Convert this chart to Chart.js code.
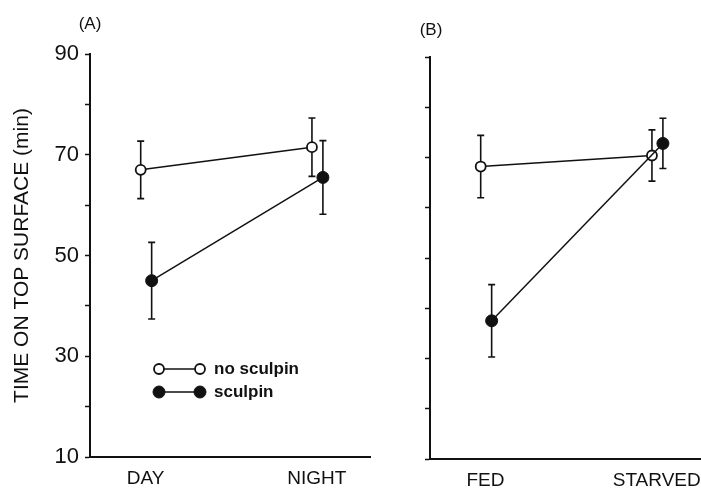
<!DOCTYPE html>
<html>
<head>
<meta charset="utf-8">
<script src="https://cdn.jsdelivr.net/npm/chart.js@4"></script>
<style>
    html, body { margin: 0; padding: 0; background: #fff; overflow: hidden; width: 701px; height: 489px; }
    canvas { position: absolute; }
    #panelA { left: 0; top: 0; }
    #panelB { left: 340px; top: 2px; }
</style>
</head>
<body>
<canvas id="panelA" width="380" height="489"></canvas>
<canvas id="panelB" width="380" height="489"></canvas>
<script>
// datos
const periodos = ["DAY", "NIGHT"];
const alimento = ["FED", "STARVED"];
const ticksY = [10, 30, 50, 70, 90];
const series = ["no sculpin", "sculpin"];

// panel (A)
const sinSculpinA = [67, 71.5];
const sinSculpinErrA = [5.7, 5.8];
const conSculpinA = [45, 65.5];
const conSculpinErrA = [7.6, 7.3];

// panel (B)
const sinSculpinB = [68.2, 70.4];
const sinSculpinErrB = [6.2, 5.1];
const conSculpinB = [37.5, 72.8];
const conSculpinErrB = [7.2, 5.0];
//-----------------------------------------------------

const negro = "#111";
const fuente = "'Liberation Sans', Arial, sans-serif";
Chart.defaults.font.family = fuente;
Chart.defaults.color = negro;

// barras de error con sus topes
const barrasError = {
    id: "barrasError",
    beforeDatasetsDraw(chart) {
        const ctx = chart.ctx;
        const escalaY = chart.scales.y;
        ctx.save();
        ctx.strokeStyle = negro;
        ctx.lineWidth = 1.6;
        chart.data.datasets.forEach((ds, i) => {
            chart.getDatasetMeta(i).data.forEach((pt, j) => {
                const arriba = escalaY.getPixelForValue(ds.data[j].y + ds.errores[j]);
                const abajo = escalaY.getPixelForValue(ds.data[j].y - ds.errores[j]);
                ctx.beginPath();
                ctx.moveTo(pt.x, arriba); ctx.lineTo(pt.x, abajo);
                ctx.moveTo(pt.x - 3.5, arriba); ctx.lineTo(pt.x + 3.5, arriba);
                ctx.moveTo(pt.x - 3.5, abajo); ctx.lineTo(pt.x + 3.5, abajo);
                ctx.stroke();
            });
        });
        ctx.restore();
    }
};

// etiqueta (A) / (B) arriba del eje
const etiquetaPanel = {
    id: "etiquetaPanel",
    afterDraw(chart, args, opts) {
        const { ctx, chartArea } = chart;
        ctx.save();
        ctx.font = "17px " + fuente;
        ctx.fillStyle = negro;
        ctx.textAlign = "center";
        ctx.textBaseline = "middle";
        ctx.fillText(opts.texto, chartArea.left + opts.dx, chartArea.top - opts.dy);
        ctx.restore();
    }
};

// leyenda tipo o---o dentro del panel A
const leyenda = {
    id: "leyenda",
    afterDraw(chart, args, opts) {
        if (!opts.mostrar) return;
        const { ctx, chartArea } = chart;
        const x0 = chartArea.left + 69;
        const x1 = chartArea.left + 110;
        ctx.save();
        chart.data.datasets.forEach((ds, i) => {
            const yy = chartArea.top + 315 + i * 23;
            ctx.strokeStyle = negro;
            ctx.lineWidth = 1.5;
            ctx.beginPath();
            ctx.moveTo(x0, yy); ctx.lineTo(x1, yy);
            ctx.stroke();
            [x0, x1].forEach(xx => {
                ctx.beginPath();
                ctx.arc(xx, yy, ds.pointRadius, 0, Math.PI * 2);
                ctx.fillStyle = ds.pointBackgroundColor;
                ctx.fill();
                ctx.lineWidth = ds.pointBorderWidth;
                ctx.stroke();
            });
            ctx.fillStyle = negro;
            ctx.font = "bold 17px " + fuente;
            ctx.textAlign = "left";
            ctx.textBaseline = "middle";
            ctx.fillText(ds.label, x1 + 14, yy);
        });
        ctx.restore();
    }
};

// desplazamiento horizontal de cada serie para que no se tapen
const corrimiento = [-0.028, 0.036];

const crearPanel = (id, etiquetas, valores, errores, conf) => {
    const ctx = document.querySelector(id).getContext("2d");
    const estilos = [
        { pointBackgroundColor: "#fff", pointRadius: 5, pointBorderWidth: 1.8, order: 2 },
        { pointBackgroundColor: negro, pointRadius: 6, pointBorderWidth: 1, order: 1 }
    ];
    return new Chart(ctx, {
        type: "line",
        data: {
            datasets: series.map((nombre, s) => ({
                label: nombre,
                data: valores[s].map((v, k) => ({ x: k + corrimiento[s], y: v })),
                errores: errores[s],
                borderColor: negro,
                borderWidth: 1.5,
                pointBorderColor: negro,
                pointHoverRadius: estilos[s].pointRadius,
                ...estilos[s]
            }))
        },
        options: {
            responsive: false,
            animation: false,
            events: [],
            layout: { padding: { top: conf.arriba, left: 0, right: 10, bottom: 0 } },
            plugins: {
                legend: { display: false },
                tooltip: { enabled: false },
                etiquetaPanel: { texto: conf.texto, dx: conf.dx, dy: conf.dy },
                leyenda: { mostrar: conf.leyenda }
            },
            scales: {
                x: {
                    type: "linear",
                    min: -0.324,
                    max: 1.311,
                    afterBuildTicks: (s) => { s.ticks = etiquetas.map((_, k) => ({ value: k })); },
                    afterFit: (s) => { s.height = 32; },
                    ticks: {
                        callback: (v) => etiquetas[v],
                        font: { size: 19 },
                        color: negro,
                        padding: 10,
                        autoSkip: false,
                        maxRotation: 0
                    },
                    grid: { display: false, drawTicks: false },
                    border: { color: negro, width: 2 }
                },
                y: {
                    min: 10,
                    max: 90,
                    afterFit: (s) => { s.width = 90; },
                    ticks: {
                        stepSize: 10,
                        display: conf.numeros,
                        callback: (v) => ticksY.includes(v) ? v : "",
                        font: { size: 22 },
                        color: negro,
                        padding: 6
                    },
                    grid: { drawOnChartArea: false, drawTicks: true, tickLength: 5, tickColor: negro, tickWidth: 1.5 },
                    border: { color: negro, width: 2 },
                    title: {
                        display: conf.numeros,
                        text: "TIME ON TOP SURFACE (min)",
                        font: { size: 21 },
                        color: negro,
                        padding: { top: 10, bottom: 0 }
                    }
                }
            }
        },
        plugins: [barrasError, etiquetaPanel, leyenda]
    });
};

crearPanel("#panelA", periodos,
    [sinSculpinA, conSculpinA], [sinSculpinErrA, conSculpinErrA],
    { texto: "(A)", dx: 0, dy: 30, arriba: 54, numeros: true, leyenda: true });

crearPanel("#panelB", alimento,
    [sinSculpinB, conSculpinB], [sinSculpinErrB, conSculpinErrB],
    { texto: "(B)", dx: 1, dy: 27, arriba: 55, numeros: false, leyenda: false });
</script>
</body>
</html>
